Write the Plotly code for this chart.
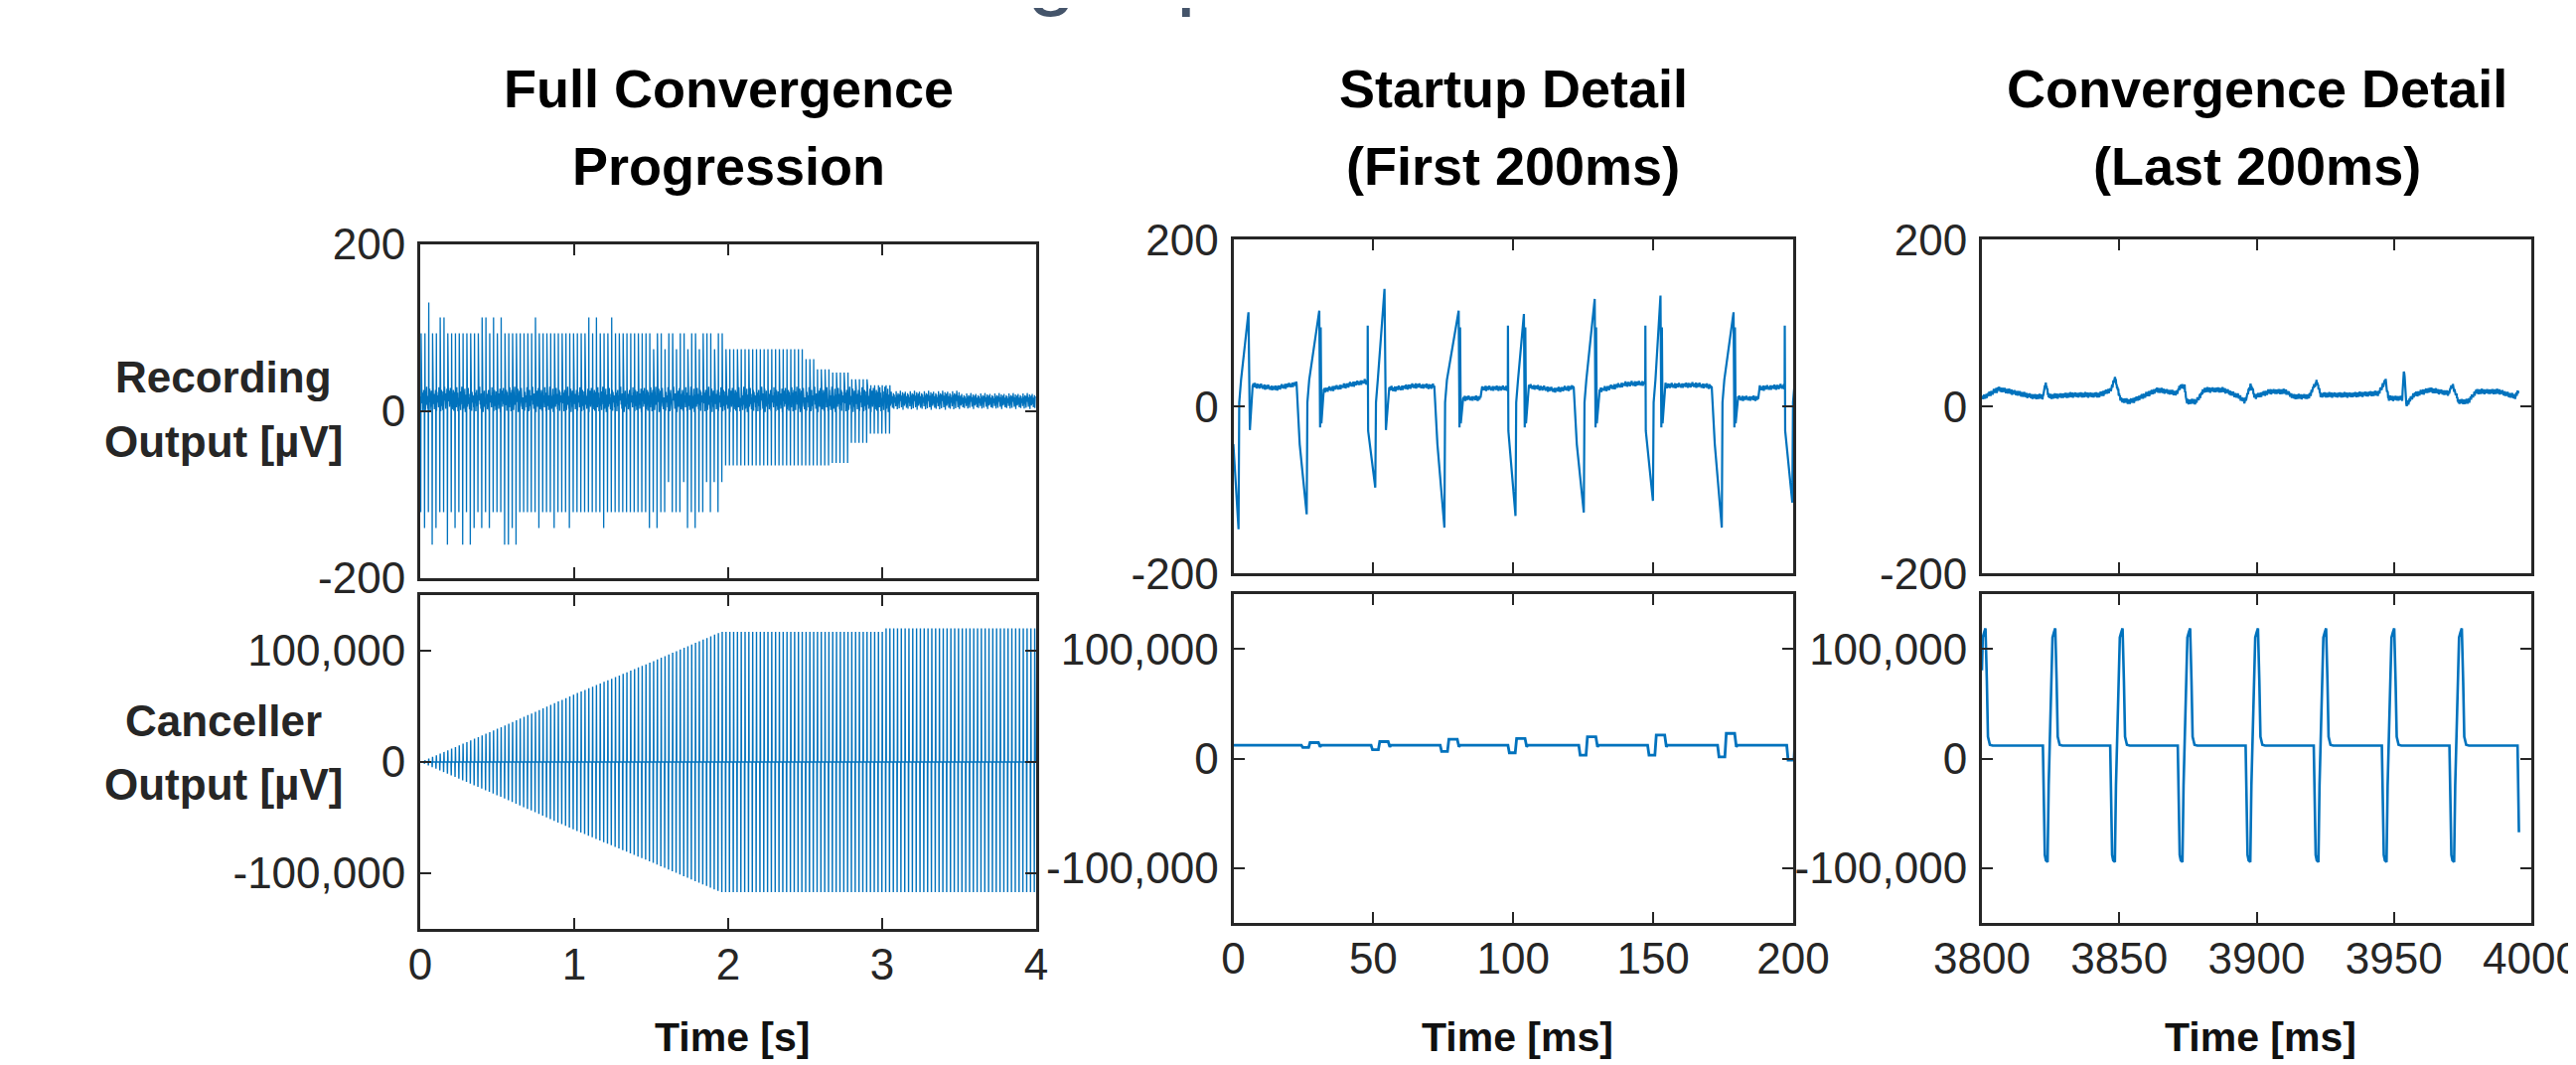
import numpy as np
import plotly.graph_objects as go

W, H = 2593, 1072
BLUE = "#0072BD"
AXC = "#262626"
FONT = "Liberation Sans, Arial, sans-serif"

# ------------------------- text / ticks -------------------------
col_titles = [("Full Convergence", "Progression"),
              ("Startup Detail", "(First 200ms)"),
              ("Convergence Detail", "(Last 200ms)")]
row_labels = [("Recording", "Output [µV]"), ("Canceller", "Output [µV]")]
x_titles = ["Time [s]", "Time [ms]", "Time [ms]"]
x_ranges = [[0, 4], [0, 200], [3800, 4000]]
x_tickvals = [[0, 1, 2, 3, 4], [0, 50, 100, 150, 200], [3800, 3850, 3900, 3950, 4000]]
rec_range = [-200, 200]
rec_tickvals = [-200, 0, 200]
canc_range = [-150000, 150000]
canc_tickvals = [-100000, 0, 100000]
canc_ticktext = ["-100,000", "0", "100,000"]
slide_title_fragments = ["g", "p"]

# hand-read texture of the baseline noise (relative units)
noise_pattern = [0.2, -0.6, 0.9, -0.3, 0.5, -0.9, 0.1, 0.7, -0.5, 0.3, -0.8, 0.6,
                 -0.1, 0.95, -0.4, 0.25, -0.7, 0.45, -0.2, 0.8, -0.95, 0.35, -0.15,
                 0.65, -0.55, 0.05, 0.85, -0.35, 0.4, -0.75, 0.15, -0.45, 0.7, -0.85,
                 0.55, -0.25, 0.3]

# ------------------------- full convergence (seconds) -------------------------
full_t_end_s = 3.995
full_pulse_first_s = 0.0019
full_pulse_period_s = 0.02475
rec_full_seg_end_s = [1.46, 1.97, 2.49, 2.56, 2.66, 2.78, 2.90, 3.06, 4.00]
rec_full_seg_peak_uv = [93, 93, 74, 62, 50, 46, 38, 31, 0]
rec_full_seg_trough_uv = [-121, -121, -65, -65, -65, -62, -38, -27, 0]
rec_full_peak_112_s = [0.134, 0.154, 0.386, 0.434, 0.484, 0.526, 0.736, 1.085, 1.139, 1.231]
rec_full_peak_130_s = [0.055]
rec_full_peak_74_s = [1.50, 1.58, 1.66, 1.74, 1.80, 1.90]
rec_full_trough_140_s = [0.034, 0.112, 0.224, 0.358, 0.405, 0.456, 0.587, 0.777, 0.875,
                         0.979, 1.180, 1.476, 1.529, 1.725, 1.778]
rec_full_trough_160_s = [0.078, 0.181, 0.285, 0.336, 0.554, 0.573, 0.629]
rec_full_trough_85_s = [1.62, 1.70, 1.86, 1.92, 1.95]
rec_full_band_end_s = [3.05, 3.5, 4.0]
rec_full_band_center_uv = [14, 13, 12]
rec_full_band_half_uv = [16, 12, 10]

canc_full_env_t_s = [0.0, 0.5, 1.0, 1.5, 1.95, 3.0, 3.01, 4.0]
canc_full_env_pos = [0, 30000, 61000, 90000, 117000, 117000, 120000, 120000]
canc_full_env_neg = [0, -30000, -61000, -90000, -117000, -117000, -117000, -117000]

# ------------------------- startup detail (ms) -------------------------
su_rec_trough_ms = [1.85, 26.2, 50.7, 75.4, 100.8, 125.2, 149.9, 174.5, 199.7]
su_rec_trough_uv = [-147, -129, -97, -145, -131, -127, -113, -145, -115]
su_rec_peak_ms = [5.4, 30.7, 54.0, 80.5, 103.8, 129.1, 152.6, 178.7, 203.0]
su_rec_peak_uv = [113, 115, 141, 115, 111, 129, 133, 113, 110]
su_rec_onset_spike = [0, 0, 1, 0, 1, 0, 1, 0, 1]
su_rec_post_spike = [0, 1, 0, 1, 1, 1, 1, 1, 0]
su_rec_base_t = [6, 15, 22, 33, 40, 47, 57, 65, 72, 81, 88, 89, 97, 106, 115, 122,
                 131, 140, 146, 156, 165, 171, 180.5, 187.4, 188, 196]
su_rec_base_uv = [26, 22, 27, 20, 25, 30, 21, 25, 24, 10, 10, 22, 22, 24, 20, 23,
                  20, 27, 28, 25, 26, 24, 10, 10, 22, 24]

su_canc_onset_ms = [24.3, 49.2, 73.9, 98.1, 123.4, 148.0, 173.0, 197.7]
su_canc_dip_uv = [10000, 8000, 6500, 5200, 3000, 3000, 1500, -1500]
su_canc_bump_uv = [14500, 15400, 17500, 18300, 19900, 21400, 22900, 24000]
su_canc_base_uv = 12100

# ------------------------- convergence detail (ms) -------------------------
cv_rec_t = [3800.0, 3806.0, 3818.7, 3822.2, 3823.3, 3824.3, 3832.8, 3842.7, 3846.9, 3848.4,
            3850.5, 3854.0, 3863.9, 3871.0, 3872.1, 3873.8, 3874.5, 3878.0, 3880.9, 3888.0,
            3893.6, 3895.7, 3897.9, 3899.3, 3904.9, 3910.6, 3913.4, 3919.1, 3921.9, 3923.3,
            3934.6, 3944.5, 3946.9, 3948.0, 3953.0, 3953.7, 3954.4, 3957.2, 3962.9, 3969.9,
            3971.4, 3973.5, 3977.0, 3979.9, 3988.3, 3994.0, 3995.4]
cv_rec_uv = [10, 21, 12, 12, 28, 12, 14, 14, 20, 34,
             8, 6, 20, 16, 24, 24, 6, 6, 20, 20,
             12, 6, 26, 12, 18, 18, 12, 12, 30, 14,
             14, 16, 32, 10, 10, 46, 2, 14, 20, 16,
             26, 6, 6, 18, 18, 12, 18]

cv_canc_onset_ms = [3796.8, 3822.2, 3846.7, 3871.3, 3896.0, 3920.8, 3945.6, 3970.2, 3995.0]
cv_canc_tpl_dt = [0, 0.4, 0.7, 1.1, 1.7, 2.1, 2.8, 3.5, 4.0, 4.5, 5.0, 5.4, 6.1, 7.1]
cv_canc_tpl_uv = [11800, -57000, -88000, -93000, -94400, -24600, 40600, 110400, 114900,
                  118700, 70300, 19900, 12500, 11800]
cv_t_end_ms = 3995.5

NP = len(noise_pattern)


# ======================= build traces =======================
def seg_value(t, ends, vals):
    for e, v in zip(ends, vals):
        if t <= e:
            return v
    return vals[-1]


def pulse_index(ts):
    return [int(round((t - full_pulse_first_s) / full_pulse_period_s)) for t in ts]


n_full = int((full_t_end_s - full_pulse_first_s) / full_pulse_period_s) + 1
pulse_t = [full_pulse_first_s + i * full_pulse_period_s for i in range(n_full)]
peaks = [seg_value(t, rec_full_seg_end_s, rec_full_seg_peak_uv) for t in pulse_t]
troughs = [seg_value(t, rec_full_seg_end_s, rec_full_seg_trough_uv) for t in pulse_t]
for lst, times, val in [(peaks, rec_full_peak_112_s, 112), (peaks, rec_full_peak_130_s, 130),
                        (peaks, rec_full_peak_74_s, 74), (troughs, rec_full_trough_140_s, -140),
                        (troughs, rec_full_trough_160_s, -160), (troughs, rec_full_trough_85_s, -85)]:
    for i in pulse_index(times):
        if 0 <= i < n_full:
            lst[i] = val

fx, fy = [], []
nk = 0
prev_end = 0.0
for i, tp in enumerate(pulse_t + [full_t_end_s + 0.01]):
    t = prev_end
    while t < min(tp, full_t_end_s):
        c = seg_value(t, rec_full_band_end_s, rec_full_band_center_uv)
        h = seg_value(t, rec_full_band_end_s, rec_full_band_half_uv)
        fx.append(t)
        fy.append(c + h * noise_pattern[nk % NP])
        nk += 1
        t += 0.0025
    if i < n_full and (peaks[i] != 0 or troughs[i] != 0):
        c = seg_value(tp, rec_full_band_end_s, rec_full_band_center_uv)
        fx += [tp, tp + 0.0015, tp + 0.004, tp + 0.0055]
        fy += [c, troughs[i], peaks[i], c]
        prev_end = tp + 0.0055
    else:
        prev_end = tp

cx, cy = [0.0], [0.0]
for tp in pulse_t:
    ap = float(np.interp(tp, canc_full_env_t_s, canc_full_env_pos))
    an = float(np.interp(tp, canc_full_env_t_s, canc_full_env_neg))
    cx += [tp, tp + 0.0015, tp + 0.004, tp + 0.0055]
    cy += [0.0, an, ap, 0.0]
cx.append(full_t_end_s)
cy.append(0.0)

# startup recording
sx, sy = [], []


def su_base(t):
    return float(np.interp(t, su_rec_base_t, su_rec_base_uv))


prev = None
for k in range(len(su_rec_trough_ms)):
    tt, tv = su_rec_trough_ms[k], su_rec_trough_uv[k]
    pt, pv = su_rec_peak_ms[k], su_rec_peak_uv[k]
    if su_rec_onset_spike[k]:
        pre = [(tt - 2.75, None), (tt - 2.7, 97), (tt - 2.55, -29)]
    else:
        pre = [(tt - 3.6, None), (tt - 2.5, -45)]
    body = [(tt, tv), (tt + 0.25, 5), (tt + 0.9, 32), (pt, pv)]
    if su_rec_post_spike[k]:
        post = [(pt + 0.3, -25), (pt + 0.5, 95), (pt + 0.75, -20), (pt + 1.6, None)]
    else:
        post = [(pt + 0.5, -28), (pt + 1.5, None)]
    pts = pre + body + post
    if prev is None:
        pts = [(0.0, -45)] + [p for p in pts if p[0] > 0]
    else:
        t = prev
        while t < pts[0][0]:
            sx.append(t)
            sy.append(su_base(t) + 3.5 * noise_pattern[nk % NP])
            nk += 1
            t += 0.2
    for t, v in pts:
        sx.append(t)
        sy.append(su_base(t) if v is None else v)
    prev = pts[-1][0]

# startup canceller
scx, scy = [0.0], [su_canc_base_uv]
for k, on in enumerate(su_canc_onset_ms):
    d, b = su_canc_dip_uv[k], su_canc_bump_uv[k]
    scx += [on, on + 0.5, on + 2.6, on + 3.1, on + 6.1, on + 6.7, on + 7.1]
    scy += [su_canc_base_uv, d, d, b, b, su_canc_base_uv - 1500, su_canc_base_uv]

# convergence recording
cvx, cvy = [], []
t = cv_rec_t[0]
while t <= cv_rec_t[-1]:
    cvx.append(t)
    cvy.append(float(np.interp(t, cv_rec_t, cv_rec_uv)) + 3.5 * noise_pattern[nk % NP])
    nk += 1
    t += 0.15

# convergence canceller
kx, ky = [], []
for on in cv_canc_onset_ms:
    for dt, v in zip(cv_canc_tpl_dt, cv_canc_tpl_uv):
        kx.append(on + dt)
        ky.append(v)
kx = np.array(kx)
ky = np.array(ky)
mask = (kx > 3800) & (kx < cv_t_end_ms)
ccx = [3800.0] + list(kx[mask]) + [cv_t_end_ms]
ccy = [float(np.interp(3800.0, kx, ky))] + list(ky[mask]) + [float(np.interp(cv_t_end_ms, kx, ky))]

series = {1: (fx, fy, 1.3), 4: (cx, cy, 1.4),
          2: (sx, sy, 2.2), 5: (scx, scy, 2.8),
          3: (cvx, cvy, 2.2), 6: (ccx, ccy, 2.6)}

fig = go.Figure()
for i, (xx, yy, w) in series.items():
    fig.add_trace(go.Scatter(x=xx, y=yy, mode="lines", line=dict(color=BLUE, width=w),
                             xaxis="x%d" % i, yaxis="y%d" % i, hoverinfo="skip",
                             showlegend=False))

col_x_px = [(415, 1035), (1233.5, 1797), (1987, 2540)]
row_y_px = [[(237.5, 574), (233.3, 569.3), (233.3, 569.3)],
            [(591, 927), (590, 921), (590, 921)]]

layout = dict(width=W, height=H, margin=dict(l=0, r=0, t=0, b=0, pad=0, autoexpand=False),
              autosize=False, paper_bgcolor="white", plot_bgcolor="white", showlegend=False)
tickfont = dict(family=FONT, size=44, color=AXC)
for r in range(2):
    for c in range(3):
        i = r * 3 + c + 1
        x0, x1 = col_x_px[c]
        ytop, ybot = row_y_px[r][c]
        common = dict(ticks="inside", ticklen=11, tickwidth=2, tickcolor=AXC,
                      showline=True, linewidth=3, linecolor=AXC, mirror="ticks",
                      showgrid=False, zeroline=False, fixedrange=True, tickfont=tickfont,
                      automargin=False)
        layout["xaxis%d" % i] = dict(domain=[x0 / W, x1 / W], range=x_ranges[c],
                                     tickvals=x_tickvals[c],
                                     ticktext=[str(v) for v in x_tickvals[c]],
                                     showticklabels=(r == 1), anchor="y%d" % i,
                                     ticklabelstandoff=-5, **common)
        if r == 0:
            yd = dict(range=rec_range, tickvals=rec_tickvals,
                      ticktext=[str(v) for v in rec_tickvals])
        else:
            yd = dict(range=canc_range, tickvals=canc_tickvals, ticktext=canc_ticktext)
        layout["yaxis%d" % i] = dict(domain=[1 - ybot / H, 1 - ytop / H], anchor="x%d" % i,
                                     ticklabelstandoff=3, **yd, **common)

ann = []
col_cx = [725, 1515, 2263.5]
for c, (l1, l2) in enumerate(col_titles):
    for txt, yc in [(l1, 81), (l2, 159)]:
        ann.append(dict(text="<b>%s</b>" % txt, x=col_cx[c] / W, y=1 - yc / H,
                        xref="paper", yref="paper", xanchor="center", yanchor="middle",
                        showarrow=False, font=dict(family=FONT, size=54, color="#000000")))
for r, (l1, l2) in enumerate(row_labels):
    ys = [(371.5, 436.5), (717, 781.5)][r]
    for txt, yc in zip((l1, l2), ys):
        ann.append(dict(text="<b>%s</b>" % txt, x=217 / W, y=1 - yc / H,
                        xref="paper", yref="paper", xanchor="center", yanchor="middle",
                        showarrow=False, font=dict(family=FONT, size=44, color=AXC)))
for c, txt in enumerate(x_titles):
    ann.append(dict(text="<b>%s</b>" % txt, x=(col_cx[c] + 4) / W, y=1 - 1035.5 / H,
                    xref="paper", yref="paper", xanchor="center", yanchor="middle",
                    showarrow=False, font=dict(family=FONT, size=41, color="#111111")))
for txt, xl in zip(slide_title_fragments, [1024, 1174]):
    ann.append(dict(text=txt, x=xl / W, y=1 - 12 / H, xref="paper", yref="paper",
                    xanchor="left", yanchor="bottom", showarrow=False,
                    font=dict(family="Liberation Sans", size=88, color="#44546A")))
layout["annotations"] = ann
fig.update_layout(**layout)
fig.write_html("out.html")
